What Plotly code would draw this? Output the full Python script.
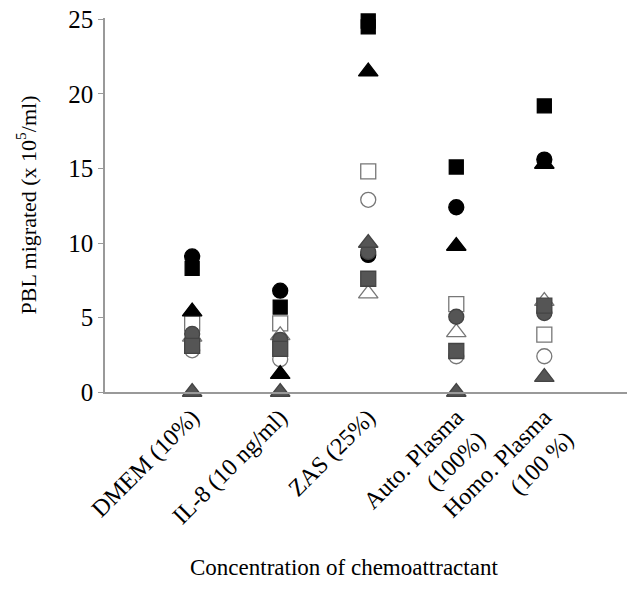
import plotly.graph_objects as go

categories = ["DMEM (10%)", "IL-8 (10 ng/ml)", "ZAS (25%)",
              "Auto. Plasma<br>(100%)", "Homo. Plasma<br>(100 %)"]

black_square = [8.3, 5.7, 24.9, 15.1, 19.2]
black_square_b = [None, None, 24.5, None, None]
black_circle = [9.1, 6.8, 9.2, 12.4, 15.6]
black_triangle = [5.4, 1.2, 21.5, 9.8, 15.3]
open_square = [4.6, 4.6, 14.8, 5.9, 3.85]
open_circle = [2.8, 2.2, 12.9, 2.4, 2.4]
open_triangle = [3.7, 3.8, 6.6, 4.0, 6.1]
grey_circle = [3.9, 3.5, 9.4, 5.05, 5.3]
grey_square = [3.1, 2.9, 7.6, 2.75, 5.8]
grey_triangle = [0.0, 0.0, 10.0, 0.0, 1.0]

series = [
    ("open square", open_square, "square", "white", "#777777", 15),
    ("open circle", open_circle, "circle", "white", "#777777", 15),
    ("open triangle", open_triangle, "triangle-up", "white", "#777777", 17),
    ("black square", black_square, "square", "black", "black", 14),
    ("black square b", black_square_b, "square", "black", "black", 14),
    ("black circle", black_circle, "circle", "black", "black", 15),
    ("black triangle", black_triangle, "triangle-up", "black", "black", 17),
    ("grey circle", grey_circle, "circle", "#555555", "#444444", 15),
    ("grey square", grey_square, "square", "#555555", "#444444", 15),
    ("grey triangle", grey_triangle, "triangle-up", "#555555", "#444444", 17),
]

fig = go.Figure()
for name, vals, sym, fill, line, size in series:
    fig.add_trace(go.Scatter(
        x=categories, y=vals, mode="markers", name=name,
        marker=dict(symbol=sym, color=fill, size=size,
                    line=dict(color=line, width=1.3)),
        cliponaxis=False, showlegend=False))

font = "Liberation Serif, Times New Roman, serif"
fig.update_layout(
    width=627, height=586,
    margin=dict(l=97, r=0, t=10, b=202),
    paper_bgcolor="white", plot_bgcolor="white",
    font=dict(family=font, size=22, color="black"),
    xaxis=dict(type="category", categoryorder="array", categoryarray=categories,
               range=[-0.99, 5.03], showline=True, linecolor="#999999", linewidth=1.5,
               showgrid=False, zeroline=False, ticks="", tickangle=-45,
               tickfont=dict(size=24), automargin=False),
    yaxis=dict(range=[0, 25.1], tickvals=[0, 5, 10, 15, 20, 25],
               showline=True, linecolor="#999999", linewidth=1.5,
               showgrid=False, zeroline=False, ticks="outside", ticklen=5,
               tickcolor="#999999", tickfont=dict(size=25), automargin=False,
               ticklabeloverflow="allow",
               title=dict(text="PBL migrated (x 10<sup>5</sup>/ml)",
                          font=dict(size=22), standoff=26)),
    annotations=[dict(text="Concentration of chemoattractant", xref="paper", yref="paper",
                      x=0.45, y=-0.468, xanchor="center", yanchor="middle",
                      showarrow=False, font=dict(size=23))],
)

fig.write_html("out.html")
